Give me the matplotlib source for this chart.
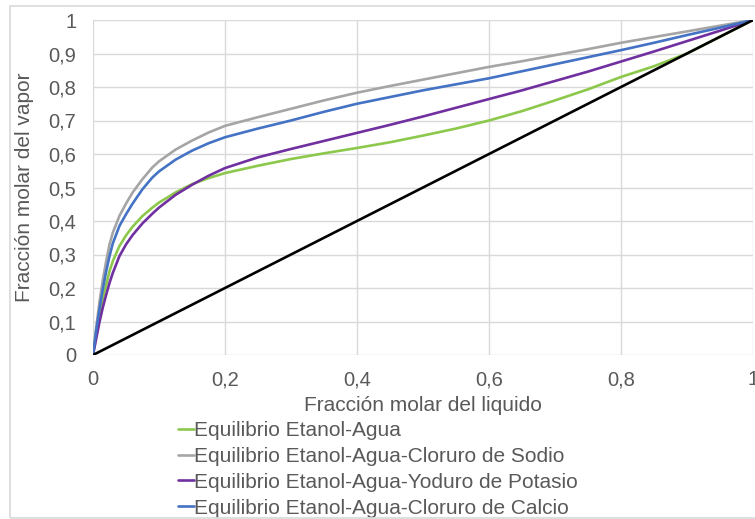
import matplotlib
matplotlib.use("Agg")
import matplotlib.pyplot as plt
from matplotlib.patches import Rectangle

plt.rcParams["font.family"] = ["Liberation Sans", "DejaVu Sans"]

# liquid mole fraction (shared x) and vapour mole fraction per system
X_LIQ = [0, 0.005, 0.01, 0.015, 0.02, 0.025, 0.03, 0.04, 0.05, 0.06, 0.075,
         0.09, 0.1, 0.125, 0.15, 0.175, 0.2, 0.25, 0.3, 0.35, 0.4, 0.45,
         0.5, 0.55, 0.6, 0.65, 0.7, 0.75, 0.8, 0.85, 0.9, 0.95, 1.0]
Y_AGUA = [0, 0.065, 0.12, 0.17, 0.21, 0.25, 0.28, 0.325, 0.357, 0.383,
          0.415, 0.44, 0.455, 0.485, 0.51, 0.528, 0.543, 0.565, 0.585,
          0.602, 0.618, 0.635, 0.655, 0.676, 0.70, 0.728, 0.76, 0.793,
          0.83, 0.862, 0.9, 0.95, 1.0]
Y_NACL = [0, 0.085, 0.16, 0.225, 0.28, 0.33, 0.365, 0.415, 0.452, 0.485,
          0.525, 0.56, 0.578, 0.613, 0.64, 0.664, 0.684, 0.71, 0.735,
          0.76, 0.783, 0.803, 0.822, 0.841, 0.86, 0.877, 0.895, 0.913,
          0.932, 0.949, 0.966, 0.983, 1.0]
Y_KI = [0, 0.05, 0.10, 0.143, 0.18, 0.215, 0.245, 0.295, 0.33, 0.358,
        0.393, 0.422, 0.44, 0.478, 0.508, 0.535, 0.558, 0.59, 0.615,
        0.639, 0.663, 0.687, 0.712, 0.738, 0.764, 0.79, 0.818, 0.846,
        0.876, 0.906, 0.937, 0.968, 1.0]
Y_CACL2 = [0, 0.075, 0.14, 0.198, 0.25, 0.295, 0.333, 0.385, 0.42, 0.452,
           0.495, 0.53, 0.548, 0.583, 0.61, 0.632, 0.65, 0.676, 0.70,
           0.726, 0.75, 0.77, 0.79, 0.808, 0.826, 0.847, 0.868, 0.889,
           0.91, 0.932, 0.955, 0.977, 1.0]
DIAG = [0, 1]

SERIES = [
    ("Equilibrio Etanol-Agua", Y_AGUA, "#8cc84b"),
    ("Equilibrio Etanol-Agua-Cloruro de Sodio", Y_NACL, "#a5a5a5"),
    ("Equilibrio Etanol-Agua-Yoduro de Potasio", Y_KI, "#7030a0"),
    ("Equilibrio Etanol-Agua-Cloruro de Calcio", Y_CACL2, "#4472c4"),
]

TXT = "#595959"
GRID = "#d9d9d9"

fig = plt.figure(figsize=(7.55, 5.19), dpi=100)
ax = fig.add_axes([93 / 755, 1 - 355 / 519, 660 / 755, 335 / 519])

# outer chart border
fig.patches.append(Rectangle((10 / 755, 1 - 518 / 519), 1.0, 512 / 519,
                             transform=fig.transFigure, fill=False,
                             edgecolor=GRID, lw=1.2))

for label, ys, color in SERIES:
    ax.plot(X_LIQ, ys, color=color, lw=1.9, label=label,
            solid_joinstyle="round", solid_capstyle="round")
ax.plot(DIAG, DIAG, color="black", lw=1.9)

ax.set_xlim(0, 1)
ax.set_ylim(0, 1)
ax.set_xticks([0, 0.2, 0.4, 0.6, 0.8, 1])
ax.set_yticks([i / 10 for i in range(11)])
ax.set_xticklabels(["0", "0,2", "0,4", "0,6", "0,8", "1"])
ax.set_yticklabels(["0"] + [f"0,{i}" for i in range(1, 10)] + ["1"])
ax.tick_params(length=0, labelsize=14.5, colors=TXT)
ax.tick_params(axis="y", pad=12)
ax.tick_params(axis="x", pad=11)
ax.grid(True, color=GRID, lw=1.0)
ax.set_axisbelow(True)
for s in ax.spines.values():
    s.set_visible(False)

ax.set_xlabel("Fracción molar del liquido", fontsize=15, color=TXT,
              labelpad=5)
ax.set_ylabel("Fracción molar del vapor", fontsize=15, color=TXT)
ax.yaxis.set_label_coords(-0.09, 0.5)

leg = ax.legend(loc="upper left", bbox_to_anchor=(178 / 755, 1 - 421 / 519),
                bbox_transform=fig.transFigure, frameon=False, fontsize=15,
                handlelength=0.75, handletextpad=0.0, labelspacing=0.33,
                borderpad=0, borderaxespad=0)
for t in leg.get_texts():
    t.set_color(TXT)

fig.savefig("out.png", dpi=100)
